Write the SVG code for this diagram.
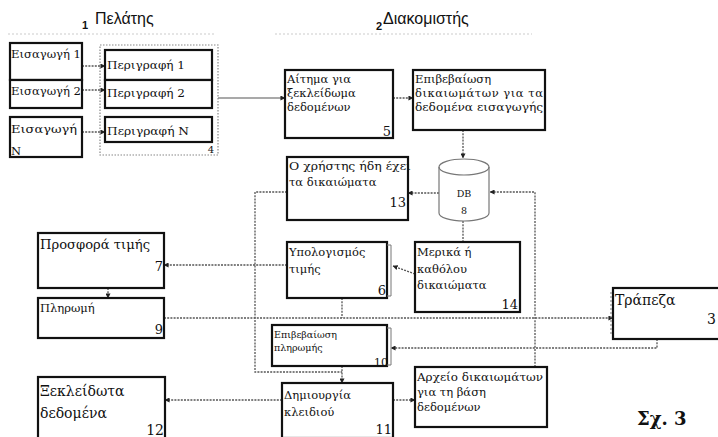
<svg xmlns="http://www.w3.org/2000/svg" width="718" height="437" viewBox="0 0 718 437">
<defs>
<marker id="ah" viewBox="0 0 6 6" refX="5.5" refY="3" markerWidth="5" markerHeight="5" orient="auto" markerUnits="userSpaceOnUse">
<path d="M0 0 L6 3 L0 6 Z" fill="#222"/>
</marker>
<style>
.box{fill:#fff;stroke:#111;stroke-width:2.2}
.t{font-family:"DejaVu Serif","Liberation Serif",serif;font-size:11.5px;fill:#111}
.s{font-size:9.5px}
.l{font-size:14px}
.n{font-family:"DejaVu Serif","Liberation Serif",serif;font-size:13px;fill:#111;text-anchor:end}
.h{font-family:"Liberation Sans",Arial,sans-serif;font-size:16px;fill:#111}
.c{fill:none;stroke:#555;stroke-width:1.3;stroke-dasharray:2 1.2}
.cs{fill:none;stroke:#555;stroke-width:1.2}
.faint{stroke:#ccc;stroke-width:1.2;stroke-dasharray:2 2;fill:none}
</style>
</defs>
<rect width="718" height="437" fill="#fff"/>

<g id="headers">
<text x="82" y="29" class="h" style="font-size:11px;font-weight:bold">1</text>
<text x="95" y="24" class="h">Πελάτης</text>
<line x1="8" y1="34" x2="216" y2="34" class="faint"/>
<text x="376" y="30" class="h" style="font-size:11px;font-weight:bold">2</text>
<text x="383" y="24" class="h">Διακομιστής</text>
<line x1="275" y1="34" x2="532" y2="34" class="faint"/>
</g>

<g id="connectors">
<path d="M82 66 H105" class="c" marker-end="url(#ah)"/>
<path d="M82 90 H105" class="c" marker-end="url(#ah)"/>
<path d="M82 132 H105" class="c" marker-end="url(#ah)"/>
<path d="M218 98 H285" class="cs" marker-end="url(#ah)"/>
<path d="M393 98 H413" class="c" marker-end="url(#ah)"/>
<path d="M463 130 V158" class="c" marker-end="url(#ah)"/>
<path d="M439 193 H408" class="c" marker-end="url(#ah)"/>
<path d="M287 192 H255 V372 H342" class="c"/>
<path d="M287 265 H164" class="c" marker-end="url(#ah)"/>
<path d="M108 288 V298" class="c" marker-end="url(#ah)"/>
<path d="M164 318 H613" class="c" marker-end="url(#ah)"/>
<path d="M342 298 V318" class="c"/>
<path d="M463 221 V242" class="c"/>
<path d="M415 274 L393 266" class="c" marker-end="url(#ah)"/>
<path d="M657 339 V348 H391" class="c" marker-end="url(#ah)"/>
<path d="M342 366 V383" class="c" marker-end="url(#ah)"/>
<path d="M393 400 H415" class="c" marker-end="url(#ah)"/>
<path d="M282 400 H165" class="c" marker-end="url(#ah)"/>
<path d="M535 367 V192 H490" class="c" marker-end="url(#ah)"/>
</g>

<g id="n-eis1"><rect x="10" y="43" width="72" height="37" class="box"/><text x="11" y="58" class="t" textLength="70" lengthAdjust="spacingAndGlyphs">Εισαγωγή 1</text></g>
<g id="n-eis2"><rect x="10" y="80" width="72" height="28" class="box"/><text x="11" y="95" class="t" textLength="70" lengthAdjust="spacingAndGlyphs">Εισαγωγή 2</text></g>
<g id="n-eisN"><rect x="10" y="117" width="72" height="40" class="box"/><text x="11" y="133" class="t" textLength="66" lengthAdjust="spacingAndGlyphs">Εισαγωγή</text><text x="11" y="155" class="t">N</text></g>

<g id="n4">
<rect x="100" y="45" width="118" height="110" fill="none" stroke="#888" stroke-width="1.2" stroke-dasharray="1.5 1.5"/>
<text x="214" y="153" class="n" style="font-size:10px">4</text>
</g>
<g id="n-per1"><rect x="105" y="50" width="107" height="30" class="box"/><text x="107" y="69" class="t" textLength="78" lengthAdjust="spacingAndGlyphs">Περιγραφή 1</text></g>
<g id="n-per2"><rect x="105" y="80" width="107" height="28" class="box"/><text x="107" y="97" class="t" textLength="78" lengthAdjust="spacingAndGlyphs">Περιγραφή 2</text></g>
<g id="n-perN"><rect x="105" y="117" width="107" height="25" class="box"/><text x="107" y="135" class="t" textLength="82" lengthAdjust="spacingAndGlyphs">Περιγραφή N</text></g>

<g id="n5"><rect x="285" y="70" width="108" height="68" class="box"/>
<text x="287" y="83" class="t">Αίτημα για</text><text x="287" y="97" class="t">ξεκλείδωμα</text><text x="287" y="111" class="t">δεδομένων</text>
<text x="391" y="136" class="n">5</text></g>

<g id="n-epib"><rect x="413" y="70" width="132" height="60" class="box"/>
<text x="415" y="83" class="t">Επιβεβαίωση</text><text x="415" y="97" class="t" textLength="128" lengthAdjust="spacing">δικαιωμάτων για τα</text><text x="415" y="111" class="t" textLength="128" lengthAdjust="spacingAndGlyphs">δεδομένα εισαγωγής</text></g>

<g id="n13"><rect x="287" y="157" width="121" height="63" class="box"/>
<text x="289" y="170" class="t" textLength="122" lengthAdjust="spacingAndGlyphs">Ο χρήστης ήδη έχει</text><text x="289" y="186" class="t">τα δικαιώματα</text>
<text x="406" y="207" class="n">13</text></g>

<g id="n8">
<path d="M439 167 A25 8 0 0 1 489 167 V213 A25 8 0 0 1 439 213 Z" fill="#fff" stroke="#777" stroke-width="1.2"/>
<path d="M439 167 A25 8 0 0 0 489 167" fill="none" stroke="#777" stroke-width="1.2"/>
<text x="464" y="197" class="t" style="font-size:9.5px;text-anchor:middle">DB</text>
<text x="464" y="214" class="t" style="font-size:9.5px;text-anchor:middle">8</text>
</g>

<g id="n6"><rect x="287" y="242" width="100" height="56" class="box"/>
<path d="M387 245 H391 V296 H387" fill="none" stroke="#777" stroke-width="1"/>
<text x="289" y="256" class="t">Υπολογισμός</text><text x="289" y="273" class="t">τιμής</text>
<text x="386" y="295" class="n">6</text></g>

<g id="n14"><rect x="415" y="242" width="105" height="70" class="box"/>
<text x="417" y="256" class="t">Μερικά ή</text><text x="417" y="273" class="t">καθόλου</text><text x="417" y="289" class="t">δικαιώματα</text>
<text x="518" y="309" class="n">14</text></g>

<g id="n7"><rect x="38" y="233" width="126" height="55" class="box"/>
<text x="40" y="249" class="t" style="font-size:12.5px" textLength="110" lengthAdjust="spacingAndGlyphs">Προσφορά τιμής</text>
<text x="163" y="271" class="n">7</text></g>

<g id="n9"><rect x="38" y="298" width="126" height="40" class="box"/>
<text x="40" y="312" class="t">Πληρωμή</text>
<text x="163" y="334" class="n">9</text></g>

<g id="n3"><rect x="613" y="288" width="110" height="51" class="box"/>
<path d="M611 292 V336" fill="none" stroke="#777" stroke-width="1" stroke-dasharray="2 2"/>
<text x="615" y="305" class="t l">Τράπεζα</text>
<text x="716" y="324" class="n" style="font-size:14px">3</text></g>

<g id="n10"><rect x="272" y="325" width="115" height="41" class="box"/>
<path d="M387 328 H391 V365 H387" fill="none" stroke="#777" stroke-width="1"/>
<text x="274" y="338" class="t s">Επιβεβαίωση</text><text x="274" y="351" class="t s">πληρωμής</text>
<text x="388" y="366" class="n" style="font-size:11px">10</text></g>

<g id="n11"><rect x="282" y="383" width="111" height="55" class="box"/>
<text x="284" y="399" class="t">Δημιουργία</text><text x="284" y="416" class="t">κλειδιού</text>
<text x="392" y="434" class="n">11</text></g>

<g id="n-arxeio"><rect x="415" y="367" width="132" height="60" class="box"/>
<text x="417" y="381" class="t" textLength="126" lengthAdjust="spacingAndGlyphs">Αρχείο δικαιωμάτων</text><text x="417" y="396" class="t">για τη βάση</text><text x="417" y="411" class="t">δεδομένων</text></g>

<g id="n12"><rect x="38" y="377" width="127" height="62" class="box"/>
<text x="40" y="396" class="t l">Ξεκλείδωτα</text><text x="40" y="418" class="t l">δεδομένα</text>
<text x="164" y="435" class="n" style="font-size:14px">12</text></g>

<text x="637" y="425" style="font-family:'DejaVu Serif','Liberation Serif',serif;font-size:18px;font-weight:bold;fill:#111">Σχ. 3</text>
</svg>
